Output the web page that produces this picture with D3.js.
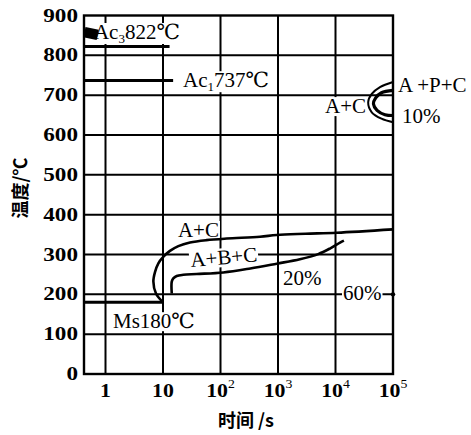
<!DOCTYPE html>
<html>
<head>
<meta charset="utf-8">
<script src="https://cdn.jsdelivr.net/npm/d3@7/dist/d3.min.js"></script>
<style>
  html, body { margin: 0; padding: 0; background: #fff; }
  svg { display: block; }
  .lbl { font-family: "Liberation Serif", "DejaVu Serif", serif; font-size: 21px; fill: #000; }
  .tick { font-family: "Liberation Serif", serif; font-weight: bold; font-size: 19px; fill: #000; }
  .cjk { font-family: "Noto Sans CJK SC", sans-serif; font-weight: bold; font-size: 18px; fill: #000; }
</style>
</head>
<body>
<svg id="chart" width="471" height="435"></svg>
<script>
// Temperature ticks (°C) and time ticks (s) on a log axis
const tempTicks = [0, 100, 200, 300, 400, 500, 600, 700, 800, 900];
const timeTicks = [1, 10, 100, 1000, 10000, 100000];
const timeTickBase = ["1", "10", "10", "10", "10", "10"];
const timeTickExp = ["", "", "2", "3", "4", "5"];

// Critical temperatures (°C) and how far (s) their lines run
const ac3Temp = 822, ac3End = 13;
const ac1Temp = 737, ac1End = 15;
const msTemp = 180, msEnd = 10;

// Transformation curves: [time s, temperature °C]
const curveAC = [[10, 180], [7.55, 202], [6.8, 232], [7.3, 257], [8.3, 278], [10.1, 294],
  [13.2, 309], [18.5, 321], [29.5, 330], [57, 336], [128, 340], [486, 344.5], [948, 349],
  [3000, 352], [10500, 354.6], [100000, 363]];
const curveABC = [[14.2, 202], [14.2, 232], [15.1, 240], [17.3, 246], [22.5, 249], [38.5, 251],
  [112, 255], [330, 265], [950, 277], [2400, 288], [5000, 301], [8000, 315], [12000, 330], [14000, 335]];
const noseOuter = [[100000, 733], [59400, 720], [42700, 703], [37000, 682], [42700, 657], [63000, 641], [100000, 632]];
const noseInner = [[100000, 712], [63000, 706], [50000, 693], [45700, 678], [52800, 662], [72600, 651], [100000, 649]];

const svg = d3.select("#chart");
const x = d3.scaleLog().domain([Math.pow(10, -0.374), 1e5]).range([84, 393]);
const y = d3.scaleLinear().domain([0, 900]).range([374, 15.5]);

// grid
const grid = svg.append("g").attr("stroke", "#000").attr("stroke-width", 2);
grid.selectAll("line.h").data(tempTicks.slice(1, -1)).join("line")
  .attr("x1", x.range()[0]).attr("x2", x.range()[1])
  .attr("y1", d => y(d)).attr("y2", d => y(d));
grid.selectAll("line.v").data(timeTicks.slice(0, -1)).join("line")
  .attr("x1", d => x(d)).attr("x2", d => x(d))
  .attr("y1", y.range()[0]).attr("y2", y.range()[1]);

// y tick labels
svg.append("g").selectAll("text").data(tempTicks).join("text")
  .attr("class", "tick")
  .attr("text-anchor", "end")
  .attr("transform", d => `translate(78,${y(d) + 6}) scale(1.22,1)`)
  .text(d => d);

// x tick labels with exponents
const xl = svg.append("g").selectAll("text").data(timeTicks).join("text")
  .attr("class", "tick")
  .attr("text-anchor", "middle")
  .attr("transform", d => `translate(${x(d)},397) scale(1.15,1)`);
xl.append("tspan").text((d, i) => timeTickBase[i]);
xl.append("tspan").attr("font-size", 12).attr("font-weight", "normal").attr("dy", -9)
  .text((d, i) => timeTickExp[i]);

// axis titles
svg.append("text").attr("class", "cjk").attr("x", 246).attr("y", 427)
  .attr("text-anchor", "middle").text("时间 /s");
svg.append("text").attr("class", "cjk").attr("text-anchor", "middle")
  .attr("transform", "translate(27,188) rotate(-90)").text("温度/℃");

// label helper: white box behind the text
function label(t, T, parts, opts = {}) {
  const g = svg.append("g");
  const txt = g.append("text").attr("class", "lbl")
    .attr("x", x(t)).attr("y", y(T))
    .attr("text-anchor", opts.anchor || "start");
  parts.forEach(p => {
    const s = txt.append("tspan").text(p.s);
    if (p.sub) s.attr("font-size", 13).attr("dy", 4);
    if (p.back) s.attr("dy", -4);
  });
  if (opts.rotate) txt.attr("transform", `rotate(${opts.rotate},${x(t)},${y(T)})`);
  if (opts.bg) {
    const b = txt.node().getBBox();
    g.insert("rect", "text").attr("x", b.x - 1).attr("y", b.y + 3)
      .attr("width", b.width + 2).attr("height", b.height - 5).attr("fill", "#fff")
      .attr("transform", txt.attr("transform"));
  }
  return g;
}

// annotations
label(0.63, 841, [{ s: "Ac" }, { s: "3", sub: true }, { s: "822℃", back: true }], { bg: true });
label(22.3, 720, [{ s: "Ac" }, { s: "1", sub: true }, { s: "737℃", back: true }], { bg: true });
label(18.2, 344, [{ s: "A+C" }], { bg: true });
label(30.7, 268.5, [{ s: "A+B+C" }], { bg: true, rotate: -5 });
label(1222, 223, [{ s: "20%" }], { bg: true });
label(13500, 186, [{ s: "60%" }], { bg: true });
label(1.35, 115, [{ s: "Ms180℃" }], { bg: true });
label(34000, 655, [{ s: "A+C" }], { anchor: "end", bg: true });
label(122000, 708, [{ s: "A +P+C" }]);
label(143500, 630, [{ s: "10%" }]);

// frame
svg.append("rect")
  .attr("x", x.range()[0]).attr("y", y.range()[1])
  .attr("width", x.range()[1] - x.range()[0]).attr("height", y.range()[0] - y.range()[1])
  .attr("fill", "none").attr("stroke", "#000").attr("stroke-width", 2.4);

// critical temperature lines
const crit = svg.append("g").attr("stroke", "#000").attr("stroke-width", 3);
crit.append("line").attr("x1", x.range()[0]).attr("x2", x(ac3End)).attr("y1", y(ac3Temp)).attr("y2", y(ac3Temp));
crit.append("line").attr("x1", x.range()[0]).attr("x2", x(ac1End)).attr("y1", y(ac1Temp)).attr("y2", y(ac1Temp));
crit.append("line").attr("x1", x.range()[0]).attr("x2", x(msEnd)).attr("y1", y(msTemp)).attr("y2", y(msTemp));

svg.append("path")
  .attr("d", d3.symbol(d3.symbolSquare, 110)())
  .attr("transform", `translate(${x(0.56)},${y(855)}) rotate(12) scale(1.3,1)`)
  .attr("fill", "#000");

// curves
const line = d3.line().x(d => x(d[0])).y(d => y(d[1])).curve(d3.curveCatmullRom.alpha(0.5));
const curves = svg.append("g").attr("fill", "none").attr("stroke", "#000");
curves.append("path").attr("d", line(curveAC)).attr("stroke-width", 2.6);
curves.append("path").attr("d", line(curveABC)).attr("stroke-width", 2.6);
curves.append("path").attr("d", line(noseOuter)).attr("stroke-width", 2);
curves.append("path").attr("d", line(noseInner)).attr("stroke-width", 3.2);

// 60% marker dot
svg.append("circle").attr("cx", x(1e5)).attr("cy", y(200)).attr("r", 2.2).attr("fill", "#000");
</script>
</body>
</html>
